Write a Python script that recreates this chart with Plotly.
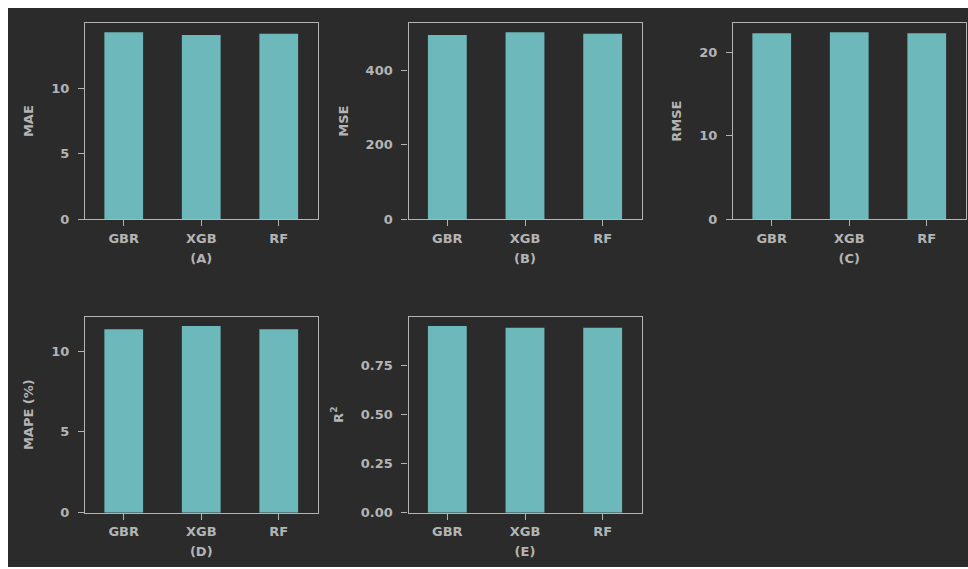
import plotly.graph_objects as go

# Model comparison metrics
models = ["GBR", "XGB", "RF"]
mae = [14.3, 14.1, 14.2]
mse = [494, 501, 497]
rmse = [22.3, 22.4, 22.3]
mape = [11.35, 11.55, 11.35]
r2 = [0.948, 0.939, 0.939]

mae_ticks = [0, 5, 10]
mse_ticks = [0, 200, 400]
rmse_ticks = [0, 10, 20]
mape_ticks = [0, 5, 10]
r2_ticks = [0.0, 0.25, 0.5, 0.75]

W, H = 968, 577
REF_H = 569  # vertical layout grid used for the panel boxes
BG = "#2b2b2b"
BAR = "#6db8ba"
FG = "#b4b4b4"
FONT = "DejaVu Sans"


def fx(px):
    return px / W


def fy(py):
    return 1 - py / REF_H


# panel boxes in pixels: (left, right) and (top, bottom)
cols = [(85, 317.5), (408.5, 641.5), (733, 965.5)]
rows = [(23, 219.3), (316.7, 512.7)]

panels = [
    (mae, "<b>MAE</b>", "<b>(A)</b>", mae_ticks, None, 0, 0),
    (mse, "<b>MSE</b>", "<b>(B)</b>", mse_ticks, None, 0, 1),
    (rmse, "<b>RMSE</b>", "<b>(C)</b>", rmse_ticks, None, 0, 2),
    (mape, "<b>MAPE (%)</b>", "<b>(D)</b>", mape_ticks, None, 1, 0),
    (r2, "<b>R<sup>2</sup></b>", "<b>(E)</b>", r2_ticks, ".2f", 1, 1),
]

fig = go.Figure()
layout = {}
for i, (vals, ytitle, xtitle, ticks, fmt, r, c) in enumerate(panels, start=1):
    sx = "" if i == 1 else str(i)
    fig.add_trace(go.Bar(
        x=models, y=vals, xaxis="x" + sx, yaxis="y" + sx,
        marker=dict(color=BAR, line=dict(width=0)), width=0.5,
        showlegend=False,
    ))
    l, rr = cols[c]
    t, b = rows[r]
    axis_common = dict(
        showline=True, mirror=True, linecolor=FG, linewidth=1.3,
        ticks="outside", ticklen=6, tickwidth=1.3, tickcolor=FG,
        showgrid=False, zeroline=False,
        tickfont=dict(family=FONT, size=13, color=FG, weight="bold"),
    )
    layout["xaxis" + sx] = dict(
        axis_common, domain=[fx(l), fx(rr)], anchor="y" + sx,
        type="category", range=[-0.5, 2.5],
        ticklabelstandoff=1,
        title=dict(text=xtitle, standoff=8,
                   font=dict(family=FONT, size=13, color=FG)),
    )
    layout["yaxis" + sx] = dict(
        axis_common, domain=[fy(b), fy(t)], anchor="x" + sx,
        range=[0, max(vals) * 1.05], tickmode="array", tickvals=ticks,
        tickformat=fmt, ticklabelstandoff=6,
        title=dict(text=ytitle, standoff=14,
                   font=dict(family=FONT, size=13, color=FG)),
    )

fig.update_layout(
    **layout,
    width=W, height=H,
    margin=dict(l=0, r=0, t=0, b=0),
    paper_bgcolor="white",
    plot_bgcolor=BG,
    bargap=0.5,
    shapes=[dict(
        type="rect", xref="paper", yref="paper",
        x0=fx(8), x1=fx(968), y0=fy(567), y1=fy(8),
        fillcolor=BG, line=dict(width=0), layer="below",
    )],
)

fig.write_html("out.html", config={"displayModeBar": False})
